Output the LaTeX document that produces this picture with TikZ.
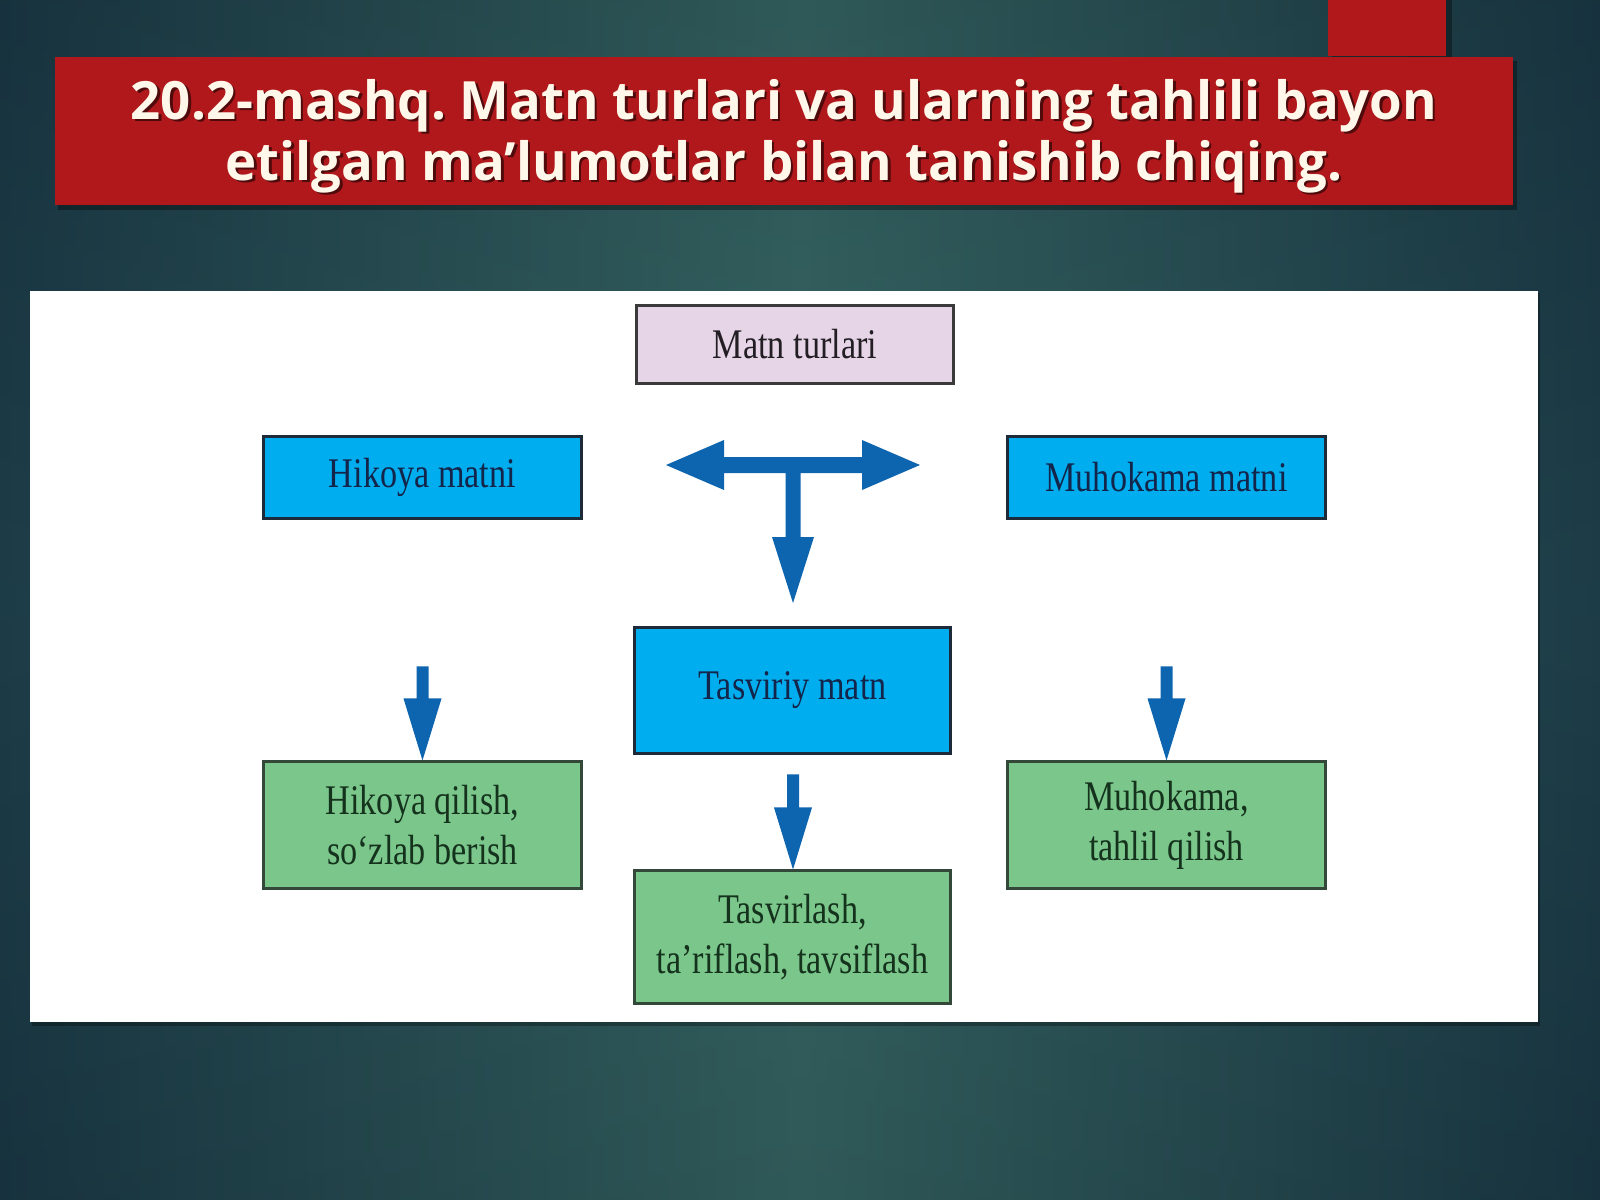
\documentclass[tikz,border=0pt]{standalone}
\usepackage{fontspec}
\usetikzlibrary{calc}
\newfontfamily\titlefont{Open Sans}
\newfontfamily\diafont{Liberation Serif}[FakeStretch=0.81]
\frenchspacing
\definecolor{bgin}{HTML}{356362}
\definecolor{bgout}{HTML}{1A3845}
\definecolor{bannerred}{HTML}{B1181C}
\definecolor{lilac}{HTML}{E5D5E7}
\definecolor{cyanbox}{HTML}{00AEEF}
\definecolor{greenbox}{HTML}{7AC68B}
\definecolor{arrowblue}{HTML}{0D65B0}
\definecolor{boxline}{HTML}{3A3A3A}
\definecolor{blueline}{HTML}{1C2A3A}
\definecolor{greenline}{HTML}{34483A}
\definecolor{txtdark}{HTML}{231E24}
\definecolor{txtnavy}{HTML}{13254A}
\definecolor{txtgreen}{HTML}{15321D}
\definecolor{cream}{HTML}{FFF8EA}
\begin{document}
\begin{tikzpicture}[x=0.01cm,y=-0.01cm,
  box/.style={draw=boxline, line width=0.85pt, inner sep=0pt, align=center,
    font=\diafont\fontsize{12}{14.2}\selectfont, text=txtdark},
  bluebox/.style={box, fill=cyanbox, draw=blueline, text=txtnavy},
  greenbx/.style={box, fill=greenbox, draw=greenline, text=txtgreen},
  smallbox/.style={minimum width=3.17cm, minimum height=0.81cm},
  bigbox/.style={minimum width=3.16cm, minimum height=1.26cm},
  titletext/.style={align=center, font=\titlefont\bfseries\fontsize{15}{17.4}\selectfont},
  blk/.style={fill=arrowblue}]
\useasboundingbox (0,0) rectangle (1600,1200);
% background
\shade[left color=bgout, right color=bgout, middle color=bgin] (0,0) rectangle (1600,1200);
\shade[top color=black, bottom color=black, middle color=bgin, opacity=0.1] (0,0) rectangle (1600,1200);
% small red tab
\fill[black, opacity=0.35] (1332,0) rectangle (1452,58);
\fill[bannerred] (1328,0) rectangle (1446,56);
% banner
\fill[black, opacity=0.35] (58,61) rectangle (1517,210);
\fill[bannerred] (55,57) rectangle (1513,205);
\node[titletext, text=black, opacity=0.55] (tshadow) at (786.5,138.5)
  {20.2-mashq. Matn turlari va ularning tahlili bayon\\etilgan ma’lumotlar bilan tanishib chiqing.};
\node[titletext, text=cream] (title) at (784,136)
  {20.2-mashq. Matn turlari va ularning tahlili bayon\\etilgan ma’lumotlar bilan tanishib chiqing.};
% white panel
\fill[black, opacity=0.3] (32,293) rectangle (1540,1026);
\fill[white] (30,291) rectangle (1538,1022);
% boxes
\node[box, fill=lilac, minimum width=3.16cm, minimum height=0.77cm] (mt) at (795,344.5) {Matn turlari};
\node[bluebox, smallbox] (hm) at (422.5,477.5) {Hikoya matni};
\node[bluebox, smallbox] (mm) at (1166.5,477.5) {Muhokama matni};
\node[bluebox, bigbox, minimum height=1.25cm] (tm) at (792.5,690.5) {Tasviriy matn};
\node[greenbx, bigbox, minimum width=3.17cm] (hq) at (422.5,825) {Hikoya qilish,\\so‘zlab berish};
\node[greenbx, bigbox, minimum height=1.32cm] (tv) at (792.5,937) {Tasvirlash,\\ta’riflash, tavsiflash};
\node[greenbx, bigbox, minimum width=3.17cm] (mq) at (1166.5,825) {Muhokama,\\tahlil qilish};
% big T arrow
\fill[blk] (666,465) -- (724,440) -- (724,457) -- (862,457) -- (862,440) -- (920,465)
  -- (862,490) -- (862,473) -- (800.5,473) -- (800.5,537) -- (814,537) -- (793,603)
  -- (772,537) -- (785.5,537) -- (785.5,473) -- (724,473) -- (724,490) -- cycle;
% small down arrows
\fill[blk] (hq.north) -- ++(-19,-62) -- ++(13,0) -- ++(0,-32) -- ++(12,0) -- ++(0,32) -- ++(13,0) -- cycle;
\fill[blk] (mq.north) -- ++(-19,-62) -- ++(13,0) -- ++(0,-32) -- ++(12,0) -- ++(0,32) -- ++(13,0) -- cycle;
\fill[blk] ($(tv.north)+(0.5,0)$) -- ++(-19,-62) -- ++(13,0) -- ++(0,-33) -- ++(12,0) -- ++(0,33) -- ++(13,0) -- cycle;
\end{tikzpicture}
\end{document}
